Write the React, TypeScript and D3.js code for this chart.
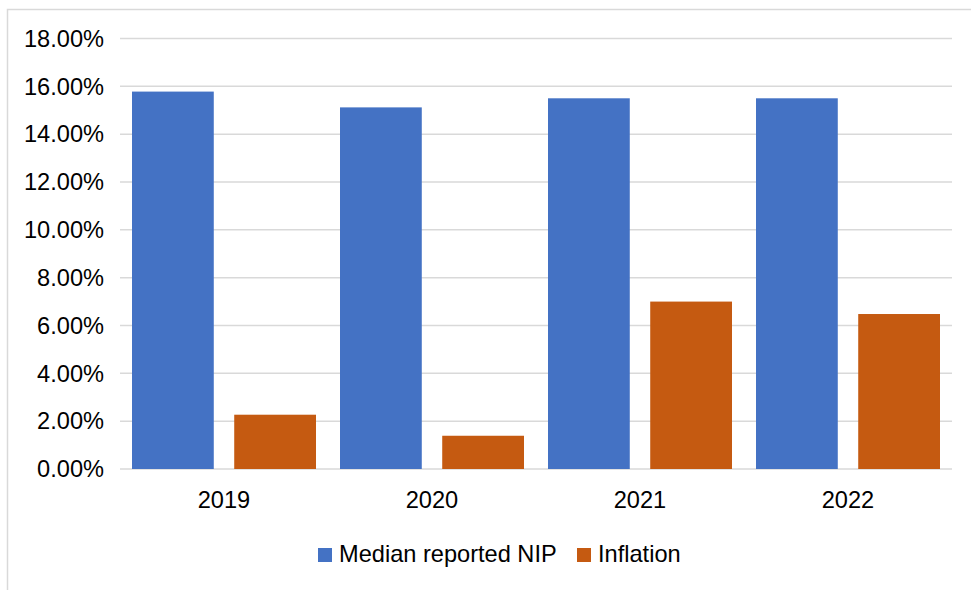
import React from 'react';
import * as d3 from 'd3';

// values
const years = ['2019', '2020', '2021', '2022'];
const seriesNames = ['Median reported NIP', 'Inflation'];
const nipValues = [0.1578, 0.1512, 0.155, 0.155];
const inflationValues = [0.0227, 0.0139, 0.07, 0.0648];
const yTicks = [0, 0.02, 0.04, 0.06, 0.08, 0.1, 0.12, 0.14, 0.16, 0.18];
const colors = ['#4472C4', '#C55A11'];

const width = 971, height = 590;
const plot = { left: 120, right: 952, top: 38.5, bottom: 469 };
const font = '"Liberation Sans", Arial, sans-serif';
const fs = 23.6;

const App = () => {
  const x0 = d3.scaleBand().domain(years).range([plot.left, plot.right]).padding(0);
  const x1 = d3.scaleBand()
    .domain(seriesNames)
    .range([12, x0.bandwidth() - 12])
    .paddingInner(0.2);
  const y = d3.scaleLinear().domain([0, 0.18]).range([plot.bottom, plot.top]);
  const fmt = d3.format('.2%');

  const series = [nipValues, inflationValues];

  // legend positions
  const legend = [
    { name: seriesNames[0], x: 318 },
    { name: seriesNames[1], x: 577 },
  ];

  return (
    <svg width={width} height={height}
      style={{ position: 'absolute', left: 0, top: 0, background: '#fff' }}
      fontFamily={font}>
      <rect x={7.5} y={9.5} width={1000} height={1000} fill="#fff" stroke="#D9D9D9" strokeWidth={1.5} />

      {yTicks.map(t => (
        <g key={t}>
          <line x1={plot.left} x2={plot.right} y1={y(t)} y2={y(t)} stroke="#D9D9D9" strokeWidth={1.5} />
          <text x={104} y={y(t)} dy="0.35em" textAnchor="end" fontSize={fs} fill="#000">{fmt(t)}</text>
        </g>
      ))}

      {years.map((yr, i) => (
        <g key={yr} transform={`translate(${x0(yr)},0)`}>
          {series.map((vals, s) => (
            <rect key={s}
              x={x1(seriesNames[s])}
              y={y(vals[i])}
              width={x1.bandwidth()}
              height={y(0) - y(vals[i])}
              fill={colors[s]} />
          ))}
          <text x={x0.bandwidth() / 2} y={508} textAnchor="middle" fontSize={fs} fill="#000">{yr}</text>
        </g>
      ))}

      {legend.map((l, i) => (
        <g key={l.name}>
          <rect x={l.x} y={548} width={14} height={14} fill={colors[i]} />
          <text x={l.x + 21} y={562} fontSize={fs} fill="#000">{l.name}</text>
        </g>
      ))}
    </svg>
  );
};

export default App;
